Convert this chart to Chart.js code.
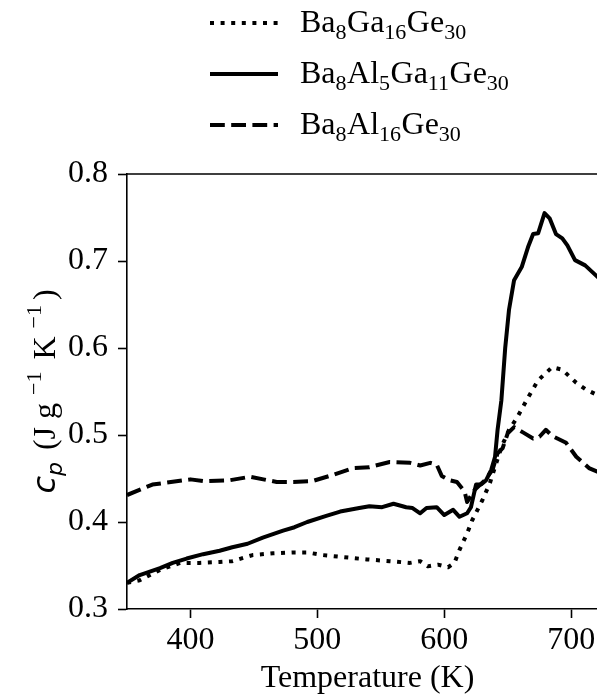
<!DOCTYPE html>
<html>
<head>
<meta charset="utf-8">
<script src="https://cdn.jsdelivr.net/npm/chart.js@4/dist/chart.umd.min.js"></script>
<style>
  html, body { margin: 0; padding: 0; background: #fff; overflow: hidden; width: 597px; height: 697px; }
  canvas { display: block; }
</style>
</head>
<body>
<canvas id="c" width="612" height="697"></canvas>
<script>
// ---- data ----
const seriesNames = ['Ba8Ga16Ge30', 'Ba8Al5Ga11Ge30', 'Ba8Al16Ge30'];

const tGa = [350,360,376,392,407,423,433,449,465,481,492,504,518,539,557,573,581,587,595,603,608,612,618,622,630,636,641,645,651,657,666,674,685,693,704,712,722];
const cpGa = [0.330,0.333,0.345,0.353,0.353,0.354,0.355,0.362,0.364,0.365,0.365,0.362,0.360,0.357,0.355,0.353,0.355,0.349,0.351,0.348,0.353,0.368,0.387,0.402,0.425,0.445,0.468,0.486,0.506,0.519,0.543,0.563,0.578,0.575,0.560,0.552,0.545];

const tAlGa = [350,360,376,386,397,410,423,433,445,457,473,482,492,507,518,533,541,551,560,570,575,581,586,594,600,607,612,618,621,625,629,633,637,640,642,645,648,651,655,661,666,670,674,679,683,688,693,697,703,711,722];
const cpAlGa = [0.330,0.339,0.347,0.353,0.358,0.363,0.367,0.371,0.375,0.382,0.390,0.394,0.400,0.407,0.412,0.416,0.418,0.417,0.421,0.417,0.416,0.410,0.416,0.417,0.408,0.414,0.406,0.410,0.417,0.443,0.443,0.448,0.460,0.475,0.506,0.540,0.600,0.644,0.678,0.693,0.716,0.731,0.732,0.755,0.749,0.731,0.726,0.718,0.701,0.695,0.680];

const tAl = [350,370,400,410,431,447,468,481,496,512,528,541,557,573,581,589,594,598,604,610,616,618,624,632,638,642,646,650,655,662,670,675,680,685,696,704,714,722];
const cpAl = [0.431,0.443,0.449,0.447,0.448,0.452,0.446,0.446,0.447,0.454,0.462,0.463,0.469,0.468,0.465,0.468,0.466,0.453,0.448,0.446,0.435,0.423,0.437,0.448,0.460,0.479,0.485,0.502,0.509,0.503,0.496,0.498,0.506,0.499,0.491,0.475,0.462,0.457];

const xTickValues = [400, 500, 600, 700];
const yTickValues = [0.3, 0.4, 0.5, 0.6, 0.7, 0.8];
const xLabel = 'Temperature (K)';

// ---- styling ----
const SERIF = '"Liberation Serif", "Times New Roman", serif';
const LW = 4;
const styles = [
  { dash: [LW * 1, LW * 1.65] },
  { dash: [] },
  { dash: [LW * 3.7, LW * 1.6] }
];

function pts(xs, ys) { return xs.map((x, i) => ({ x: x, y: ys[i] })); }

const legendParts = [
  [['Ba'], ['8', 1], ['Ga'], ['16', 1], ['Ge'], ['30', 1]],
  [['Ba'], ['8', 1], ['Al'], ['5', 1], ['Ga'], ['11', 1], ['Ge'], ['30', 1]],
  [['Ba'], ['8', 1], ['Al'], ['16', 1], ['Ge'], ['30', 1]]
];

function drawRichLine(ctx, parts, x, y) {
  for (const p of parts) {
    const isSub = p[1] === 1;
    ctx.font = (isSub ? '22px ' : '32px ') + SERIF;
    ctx.fillText(p[0], x, y + (isSub ? 7 : 0));
    x += ctx.measureText(p[0]).width + (isSub ? 0.5 : 0);
  }
}

const decorPlugin = {
  id: 'decor',
  afterDraw(chart) {
    const ctx = chart.ctx;
    const ca = chart.chartArea;
    ctx.save();
    // top and right spines
    ctx.strokeStyle = '#000';
    ctx.lineWidth = 1.6;
    ctx.beginPath();
    ctx.moveTo(ca.left, ca.top);
    ctx.lineTo(ca.right, ca.top);
    ctx.lineTo(ca.right, ca.bottom);
    ctx.stroke();

    // legend
    const rowY = [32, 83, 134];
    ctx.fillStyle = '#000';
    ctx.textBaseline = 'alphabetic';
    ctx.textAlign = 'left';
    chart.data.datasets.forEach((ds, i) => {
      const ly = rowY[i] - 9;
      ctx.save();
      ctx.strokeStyle = ds.borderColor;
      ctx.lineWidth = ds.borderWidth;
      ctx.lineCap = 'butt';
      ctx.setLineDash(ds.borderDash || []);
      ctx.beginPath();
      ctx.moveTo(210, ly);
      ctx.lineTo(278, ly);
      ctx.stroke();
      ctx.restore();
      drawRichLine(ctx, legendParts[i], 300, rowY[i]);
    });

    // y axis title (rotated, rich text)
    const parts = [
      { t: 'c', f: 'italic 32px "DejaVu Sans"', dy: 0 },
      { t: 'p', f: 'italic 22px "DejaVu Sans"', dy: 7, gapAfter: 4 },
      { t: ' (J g', f: '32px ' + SERIF, dy: 0, gapAfter: 8 },
      { t: '\u22121', f: '22px ' + SERIF, dy: -14, gapAfter: 4 },
      { t: ' K', f: '32px ' + SERIF, dy: 0, gapAfter: 8 },
      { t: '\u22121', f: '22px ' + SERIF, dy: -14, gapAfter: 5 },
      { t: ')', f: '32px ' + SERIF, dy: 0 }
    ];
    let total = 0;
    for (const p of parts) { ctx.font = p.f; p.w = ctx.measureText(p.t).width; total += p.w + (p.gapAfter || 0); }
    ctx.translate(55, (ca.top + ca.bottom) / 2);
    ctx.rotate(-Math.PI / 2);
    let x = -total / 2;
    for (const p of parts) {
      ctx.font = p.f;
      ctx.fillText(p.t, x, p.dy);
      x += p.w + (p.gapAfter || 0);
    }
    ctx.restore();
  }
};

const datasets = [
  { label: seriesNames[0], data: pts(tGa, cpGa), borderDash: styles[0].dash },
  { label: seriesNames[1], data: pts(tAlGa, cpAlGa), borderDash: styles[1].dash },
  { label: seriesNames[2], data: pts(tAl, cpAl), borderDash: styles[2].dash }
].map(d => Object.assign(d, {
  borderColor: '#000',
  backgroundColor: '#000',
  borderWidth: LW,
  pointRadius: 0,
  tension: 0,
  borderCapStyle: 'butt',
  borderJoinStyle: 'round',
  fill: false
}));

new Chart(document.getElementById('c'), {
  type: 'line',
  data: { datasets: datasets },
  options: {
    responsive: false,
    animation: false,
    devicePixelRatio: 1,
    layout: { padding: { top: 174, right: 4, bottom: 0, left: 0 } },
    plugins: { legend: { display: false }, tooltip: { enabled: false } },
    scales: {
      x: {
        type: 'linear',
        min: 350,
        max: 729,
        afterFit(scale) { scale.height = 88; },
        afterBuildTicks(scale) { scale.ticks = xTickValues.map(v => ({ value: v })); },
        grid: { display: true, drawOnChartArea: false, drawTicks: true, tickLength: 9, tickColor: '#000', tickWidth: 1.6 },
        border: { display: true, color: '#000', width: 1.6 },
        ticks: { color: '#000', padding: 3, font: { family: SERIF, size: 32 }, callback: v => String(v) },
        title: { display: true, text: xLabel, color: '#000', font: { family: SERIF, size: 32, lineHeight: 1.0 }, padding: { top: 0, bottom: 2 } }
      },
      y: {
        type: 'linear',
        min: 0.3,
        max: 0.8,
        afterFit(scale) { scale.width = 127; },
        afterBuildTicks(scale) { scale.ticks = yTickValues.map(v => ({ value: v })); },
        grid: { display: true, drawOnChartArea: false, drawTicks: true, tickLength: 9, tickColor: '#000', tickWidth: 1.6 },
        border: { display: true, color: '#000', width: 1.6 },
        ticks: { color: '#000', padding: 10, font: { family: SERIF, size: 32 }, callback: v => Number(v).toFixed(1) }
      }
    }
  },
  plugins: [decorPlugin]
});
</script>
</body>
</html>
